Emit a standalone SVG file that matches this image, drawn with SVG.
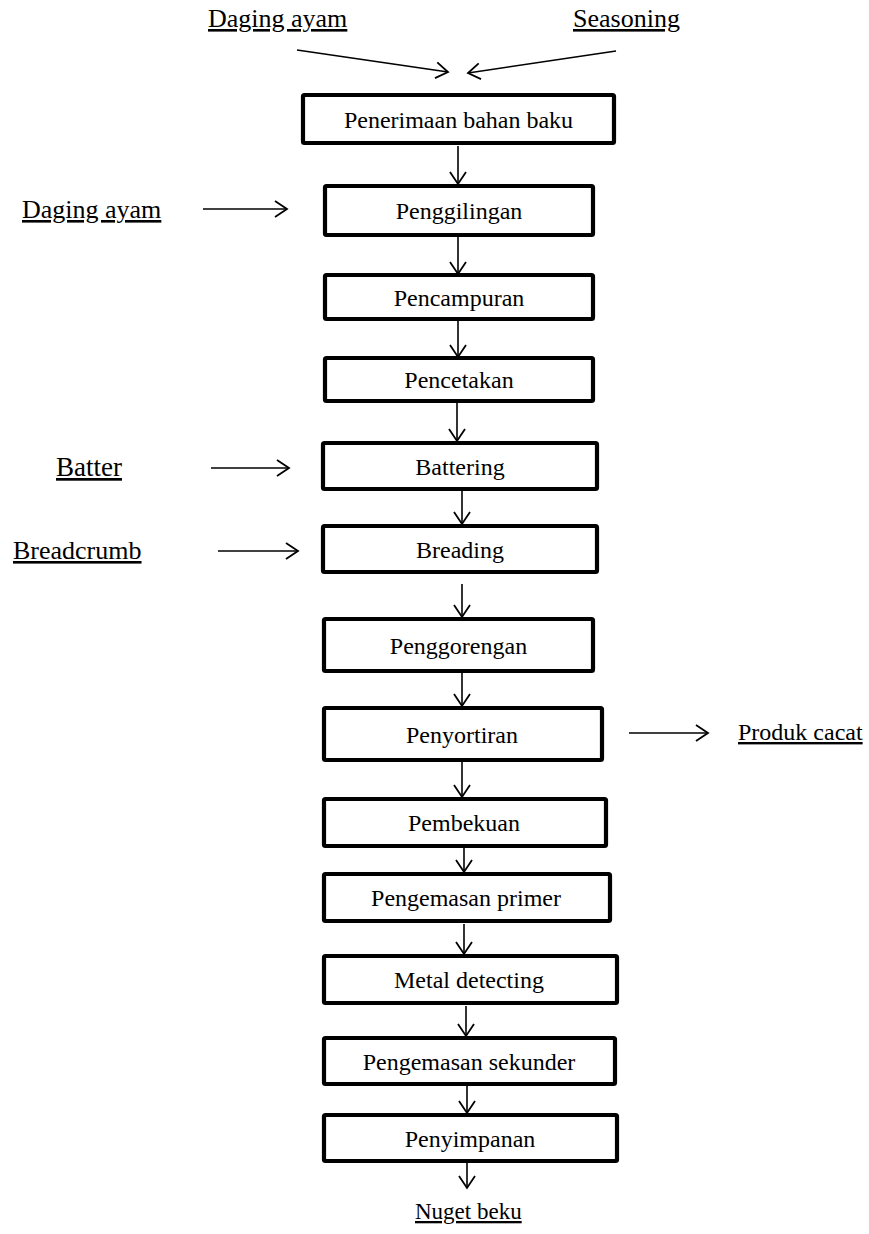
<svg xmlns="http://www.w3.org/2000/svg" width="869" height="1234" viewBox="0 0 869 1234">
<style>
.box{fill:#fff;stroke:#000;stroke-width:4.2}
.t{font-family:"Liberation Serif","Times New Roman",serif;font-size:24px;fill:#000;text-anchor:middle}
.lbl{font-family:"Liberation Serif","Times New Roman",serif;font-size:26px;fill:#000;text-decoration:underline}
.c{stroke:#000;stroke-width:1.6;fill:none;marker-end:url(#ah)}
</style>
<defs>
<marker id="ah" markerUnits="userSpaceOnUse" viewBox="-14 -10 16 20" refX="0" refY="0" markerWidth="16" markerHeight="20" orient="auto">
<path d="M-12,-8 L0,0 L-12,8" fill="none" stroke="#000" stroke-width="1.8"/>
</marker>
</defs>
<rect width="869" height="1234" fill="#fff"/>
<g id="connectors">
<line class="c" x1="297" y1="50" x2="448" y2="72"/>
<line class="c" x1="616" y1="51" x2="468" y2="73"/>
<line class="c" x1="458" y1="146" x2="458" y2="184"/>
<line class="c" x1="458" y1="237" x2="458" y2="274"/>
<line class="c" x1="458" y1="320" x2="458" y2="357"/>
<line class="c" x1="457" y1="403" x2="457" y2="441"/>
<line class="c" x1="462" y1="490" x2="462" y2="524"/>
<line class="c" x1="462" y1="584" x2="462" y2="617"/>
<line class="c" x1="462" y1="673" x2="462" y2="706"/>
<line class="c" x1="462" y1="762" x2="462" y2="797"/>
<line class="c" x1="464" y1="848" x2="464" y2="872"/>
<line class="c" x1="464" y1="924" x2="464" y2="954"/>
<line class="c" x1="466" y1="1006" x2="466" y2="1036"/>
<line class="c" x1="467" y1="1086" x2="467" y2="1113"/>
<line class="c" x1="467" y1="1163" x2="467" y2="1188"/>
<line class="c" x1="203" y1="209" x2="287" y2="209"/>
<line class="c" x1="211" y1="468" x2="289" y2="468"/>
<line class="c" x1="218" y1="551" x2="298" y2="551"/>
<line class="c" x1="629" y1="733" x2="708" y2="733"/>
</g>
<g id="in-daging-top"><text class="lbl" x="208" y="27">Daging ayam</text></g>
<g id="in-seasoning"><text class="lbl" x="573" y="27">Seasoning</text></g>
<g id="in-daging-left"><text class="lbl" x="22" y="218">Daging ayam</text></g>
<g id="in-batter"><text class="lbl" x="56" y="476" style="font-size:27px">Batter</text></g>
<g id="in-breadcrumb"><text class="lbl" x="13" y="559">Breadcrumb</text></g>
<g id="out-produk-cacat"><text class="lbl" x="738" y="740" style="font-size:24px">Produk cacat</text></g>
<g id="out-nuget-beku"><text class="lbl" x="415" y="1219" style="font-size:23px">Nuget beku</text></g>
<g id="n1"><rect class="box" x="303" y="95" width="311" height="48" rx="1.5"/><text class="t" x="458.5" y="127.5">Penerimaan bahan baku</text></g>
<g id="n2"><rect class="box" x="325" y="186" width="268" height="49" rx="1.5"/><text class="t" x="459" y="219">Penggilingan</text></g>
<g id="n3"><rect class="box" x="325" y="275" width="268" height="44" rx="1.5"/><text class="t" x="459" y="305.5">Pencampuran</text></g>
<g id="n4"><rect class="box" x="325" y="358" width="268" height="43" rx="1.5"/><text class="t" x="459" y="388">Pencetakan</text></g>
<g id="n5"><rect class="box" x="323" y="443" width="274" height="46" rx="1.5"/><text class="t" x="460" y="474.5">Battering</text></g>
<g id="n6"><rect class="box" x="323" y="526" width="274" height="46" rx="1.5"/><text class="t" x="460" y="557.5">Breading</text></g>
<g id="n7"><rect class="box" x="324" y="619" width="269" height="52" rx="1.5"/><text class="t" x="458.5" y="653.5">Penggorengan</text></g>
<g id="n8"><rect class="box" x="324" y="708" width="278" height="52" rx="1.5"/><text class="t" x="462" y="742.5">Penyortiran</text></g>
<g id="n9"><rect class="box" x="324" y="799" width="282" height="47" rx="1.5"/><text class="t" x="464" y="831">Pembekuan</text></g>
<g id="n10"><rect class="box" x="324" y="874" width="286" height="47" rx="1.5"/><text class="t" x="466" y="906">Pengemasan primer</text></g>
<g id="n11"><rect class="box" x="324" y="956" width="293" height="47" rx="1.5"/><text class="t" x="469" y="988">Metal detecting</text></g>
<g id="n12"><rect class="box" x="324" y="1038" width="291" height="46" rx="1.5"/><text class="t" x="469" y="1069.5">Pengemasan sekunder</text></g>
<g id="n13"><rect class="box" x="324" y="1115" width="293" height="46" rx="1.5"/><text class="t" x="470" y="1146.5">Penyimpanan</text></g>
</svg>
